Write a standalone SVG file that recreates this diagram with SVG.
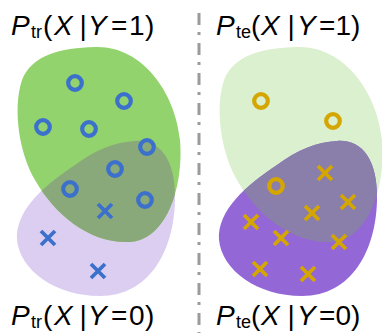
<svg xmlns="http://www.w3.org/2000/svg" width="382" height="333" viewBox="0 0 382 333">
<style>
text{font-family:"Liberation Sans",Arial,sans-serif;fill:#000}
.big{font-size:28px}
.sub{font-size:18px}
.it{font-style:italic}
.ob{fill:none;stroke:#3b70cc;stroke-width:4.2}
.xb{stroke:#3b70cc;stroke-width:3.8}
.og{fill:none;stroke:#d5a600;stroke-width:4.2}
.xg{stroke:#d5a600;stroke-width:3.8}
</style>
<defs>
<path id="gblob" d="M95 47C140 45 175 90 180 140C184 190 165 240 130 242C90 244 55 215 35 180C20 155 12 110 22 80C32 55 60 48 95 47Z"/>
<path id="pblob" d="M135 141C160 139 176 160 175 200C174 250 150 296 100 296C55 296 20 270 17 240C15 210 45 185 75 165C95 150 115 142 135 141Z"/>
<clipPath id="clipL"><use href="#gblob"/></clipPath>
<clipPath id="clipR"><use href="#gblob" transform="translate(202 0)"/></clipPath>
<circle id="o" r="6.8"/>
<path id="x" d="M-7 -7L7 7M7 -7L-7 7"/>
</defs>

<g id="train">
<use href="#pblob" fill="#dccef1"/>
<use href="#gblob" fill="#93d36d"/>
<use href="#pblob" fill="#8aa97b" clip-path="url(#clipL)"/>
<g class="ob">
<use href="#o" x="75" y="83"/><use href="#o" x="124" y="101"/><use href="#o" x="43" y="127"/><use href="#o" x="89" y="129"/>
<use href="#o" x="147" y="147"/><use href="#o" x="115" y="169"/><use href="#o" x="70" y="189"/><use href="#o" x="145" y="200"/>
</g>
<g class="xb">
<use href="#x" x="105" y="211"/><use href="#x" x="48" y="238"/><use href="#x" x="98" y="271"/>
</g>
</g>

<g id="test">
<g transform="translate(202 0)">
<use href="#gblob" fill="#daf0cf"/>
<use href="#pblob" fill="#9467d6"/>
</g>
<g clip-path="url(#clipR)"><use href="#pblob" transform="translate(202 0)" fill="#8a7eab"/></g>
<g class="og">
<use href="#o" x="261" y="101"/><use href="#o" x="333" y="121"/><use href="#o" x="276" y="186"/>
</g>
<g class="xg">
<use href="#x" x="325" y="173"/><use href="#x" x="348" y="202"/><use href="#x" x="312" y="213"/><use href="#x" x="251" y="222"/>
<use href="#x" x="281" y="238"/><use href="#x" x="339" y="242"/><use href="#x" x="260" y="269"/><use href="#x" x="308" y="274"/>
</g>
</g>

<g id="connectors">
<line x1="199" y1="13" x2="199" y2="333" stroke="#9a9a9a" stroke-width="3" stroke-dasharray="12 7 3 8"/>
</g>

<g id="label-tr-y1">
<text class="big it" x="11" y="35">P</text><text class="sub" x="31" y="38">tr</text>
<text class="big" x="43" y="35">(</text><text class="big it" x="54" y="35">X</text><text class="big" x="79.5" y="35">|</text>
<text class="big it" x="88" y="35">Y</text><text class="big" x="111" y="35">=</text><text class="big" x="129" y="35">1</text><text class="big" x="145" y="35">)</text>
</g>
<g id="label-tr-y0">
<text class="big it" x="11" y="325">P</text><text class="sub" x="31" y="328">tr</text>
<text class="big" x="43" y="325">(</text><text class="big it" x="54" y="325">X</text><text class="big" x="79.5" y="325">|</text>
<text class="big it" x="88" y="325">Y</text><text class="big" x="111" y="325">=</text><text class="big" x="129" y="325">0</text><text class="big" x="145" y="325">)</text>
</g>
<g id="label-te-y1">
<text class="big it" x="216" y="35">P</text><text class="sub" x="236" y="38">te</text>
<text class="big" x="251" y="35">(</text><text class="big it" x="261" y="35">X</text><text class="big" x="287.5" y="35">|</text>
<text class="big it" x="297" y="35">Y</text><text class="big" x="319" y="35">=</text><text class="big" x="335.5" y="35">1</text><text class="big" x="351" y="35">)</text>
</g>
<g id="label-te-y0">
<text class="big it" x="216" y="325">P</text><text class="sub" x="236" y="328">te</text>
<text class="big" x="251" y="325">(</text><text class="big it" x="261" y="325">X</text><text class="big" x="287.5" y="325">|</text>
<text class="big it" x="297" y="325">Y</text><text class="big" x="319" y="325">=</text><text class="big" x="335.5" y="325">0</text><text class="big" x="351" y="325">)</text>
</g>
</svg>
